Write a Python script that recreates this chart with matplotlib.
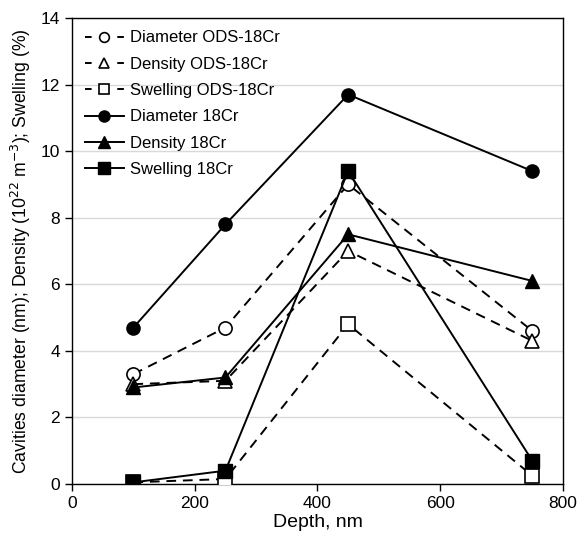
import matplotlib
matplotlib.use('Agg')
import matplotlib.pyplot as plt
from matplotlib.lines import Line2D

depth = [100, 250, 450, 750]

diam_ods = [3.3, 4.7, 9.0, 4.6]
dens_ods = [3.0, 3.1, 7.0, 4.3]
swel_ods = [0.05, 0.15, 4.8, 0.25]
diam_cr = [4.7, 7.8, 11.7, 9.4]
dens_cr = [2.9, 3.2, 7.5, 6.1]
swel_cr = [0.05, 0.4, 9.4, 0.7]

series = [
    ('Diameter ODS-18Cr', diam_ods, 'o', True),
    ('Density ODS-18Cr', dens_ods, '^', True),
    ('Swelling ODS-18Cr', swel_ods, 's', True),
    ('Diameter 18Cr', diam_cr, 'o', False),
    ('Density 18Cr', dens_cr, '^', False),
    ('Swelling 18Cr', swel_cr, 's', False),
]

plt.rcParams['font.family'] = ['Liberation Sans', 'DejaVu Sans']
plt.rcParams['font.size'] = 12.5

fig = plt.figure(figsize=(5.78, 5.40), dpi=100)
ax = fig.add_axes([0.1246, 0.1037, 0.8494, 0.863])

ax.grid(axis='y', color='#d9d9d9', linewidth=1)
ax.set_axisbelow(True)

ms = 9.5
lw = 1.4
handles = []
for name, vals, mk, hollow in series:
    if hollow:
        ax.plot(depth, vals, color='black', marker=mk, mfc='white', mec='black',
                ms=ms, mew=1.2, lw=lw, dashes=(5, 3.5), zorder=3)
        handles.append(Line2D([], [], color='black', marker=mk, mfc='white',
                              mec='black', ms=7, mew=1.2, lw=lw, dashes=(3.4, 13.2)))
    else:
        ax.plot(depth, vals, '-', color='black', marker=mk, ms=ms, lw=lw, zorder=4)
        handles.append(Line2D([], [], color='black', marker=mk, ms=8, lw=lw))

ax.set_xlim(0, 800)
ax.set_ylim(0, 14)
ax.set_xticks([0, 200, 400, 600, 800])
ax.set_yticks([0, 2, 4, 6, 8, 10, 12, 14])
ax.tick_params(direction='out', length=5, width=1, colors='black')
for s in ax.spines.values():
    s.set_color('black')
    s.set_linewidth(1)

ax.set_xlabel('Depth, nm', fontsize=14, labelpad=2)
ax.set_ylabel('Cavities diameter (nm); Density (10$^{22}$ m$^{-3}$); Swelling (%)',
              fontsize=12.7, labelpad=6)

ax.legend(handles, [s[0] for s in series], loc='upper left', frameon=False,
          handlelength=2.35, borderaxespad=0.35, borderpad=0.4,
          labelspacing=0.68, handletextpad=0.4, fontsize=12)

plt.savefig('out.png', dpi=100)
